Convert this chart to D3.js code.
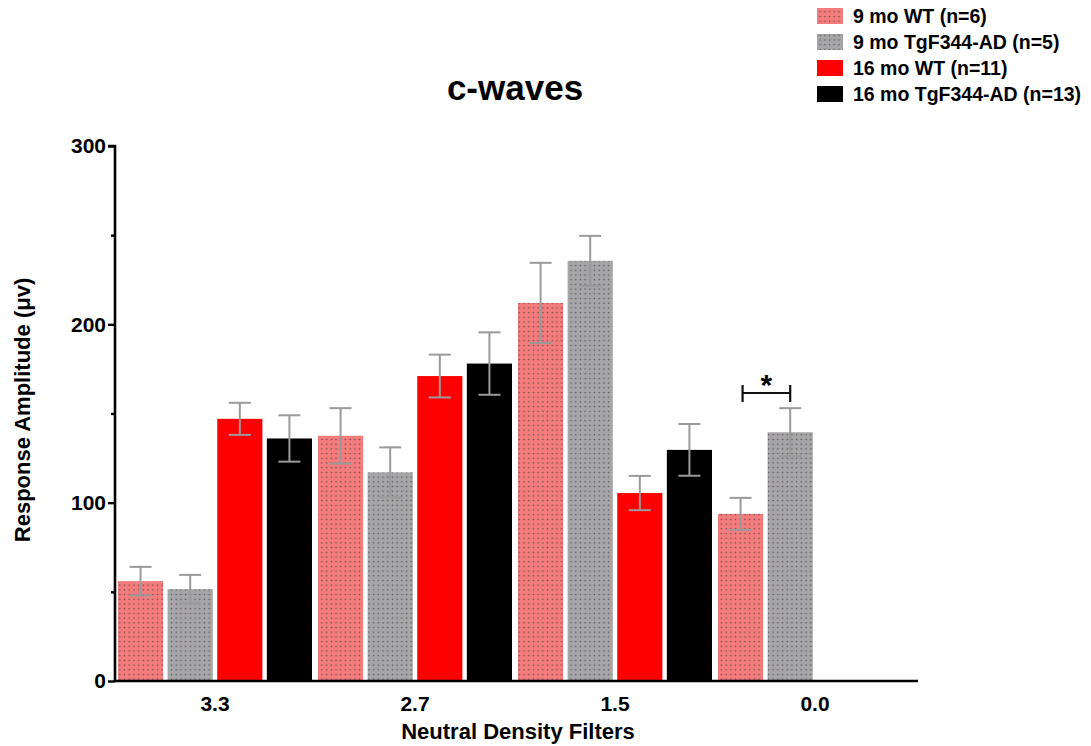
<!DOCTYPE html>
<html><head><meta charset="utf-8">
<script src="https://cdn.jsdelivr.net/npm/d3@7"></script>
<style>body{margin:0;background:#fff}svg{display:block;font-family:"Liberation Sans",Arial,Helvetica,sans-serif}</style>
</head><body><svg id="c" width="1091" height="746"></svg>
<script>
const categories = ["3.3","2.7","1.5","0.0"];
const seriesNames = ["9 mo WT (n=6)","9 mo TgF344-AD (n=5)","16 mo WT (n=11)","16 mo TgF344-AD (n=13)"];
// values per series, indexed by category
const seriesValues = [
  [56, 137.5, 212, 93.7],
  [51.5, 117, 235.6, 139.5],
  [147, 171, 105.4, null],
  [136, 178, 129.6, null]
];
const seriesErrors = [
  [8, 15.5, 22.5, 9],
  [8, 14, 14, 13.5],
  [9, 12, 9.6, null],
  [13, 17.5, 14.5, null]
];
const yTicks = [0, 100, 200, 300];
const yMinorTicks = [50, 150, 250];
const sig = {category: "0.0", from: 0, to: 1, value: 161.5, label: "*"};

const svg = d3.select("#c");
const colors = ["#f47c7c", "#a6a6a8", "#ff0000", "#000000"];
const patterned = [true, true, false, false];

const defs = svg.append("defs");
colors.forEach((c, i) => {
  if (!patterned[i]) return;
  const p = defs.append("pattern").attr("id", "pat" + i).attr("patternUnits", "userSpaceOnUse")
    .attr("width", 4.7).attr("height", 4.7);
  p.append("rect").attr("width", 4.7).attr("height", 4.7).attr("fill", c);
  p.append("circle").attr("cx", 2.35).attr("cy", 2.35).attr("r", 0.8).attr("fill", "#4a3c3c").attr("opacity", 0.8);
});
const fillOf = i => patterned[i] ? `url(#pat${i})` : colors[i];

const x0 = d3.scaleBand().domain(categories).range([115, 915]).padding(0);
const x1 = d3.scaleBand().domain(d3.range(4)).range([3, 197]).paddingInner(0.09).paddingOuter(0);
const y = d3.scaleLinear().domain([0, 300]).range([681, 146]);

// bars
const g = svg.append("g");
seriesValues.forEach((vals, si) => {
  vals.forEach((v, ci) => {
    if (v == null) return;
    const xp = x0(categories[ci]) + x1(si);
    g.append("rect").attr("x", xp).attr("y", y(v)).attr("width", x1.bandwidth())
      .attr("height", y(0) - y(v)).attr("fill", fillOf(si));
  });
});
// error bars
seriesValues.forEach((vals, si) => {
  vals.forEach((v, ci) => {
    if (v == null) return;
    const e = seriesErrors[si][ci];
    const cx = x0(categories[ci]) + x1(si) + x1.bandwidth() / 2;
    const eg = g.append("g").attr("stroke", "#9a9a9a").attr("stroke-width", 2);
    eg.append("line").attr("x1", cx).attr("x2", cx).attr("y1", y(v - e)).attr("y2", y(v + e));
    eg.append("line").attr("x1", cx - 11).attr("x2", cx + 11).attr("y1", y(v + e)).attr("y2", y(v + e));
    eg.append("line").attr("x1", cx - 11).attr("x2", cx + 11).attr("y1", y(v - e)).attr("y2", y(v - e));
  });
});

// y axis
const yAxis = d3.axisLeft(y).tickValues(yTicks).tickSize(7).tickPadding(2).tickFormat(d3.format("d"));
const ya = svg.append("g").attr("transform", "translate(115,0)").call(yAxis);
ya.select(".domain").attr("stroke-width", 2.6).attr("d", `M-7,${y(300)}H0V${y(0)}`);
ya.selectAll(".tick line").attr("stroke-width", 2.4);
ya.selectAll(".tick text").attr("font-size", 21).attr("font-weight", "bold").attr("fill", "#000");
const yMinor = d3.axisLeft(y).tickValues(yMinorTicks).tickSize(4).tickFormat("");
const ym = svg.append("g").attr("transform", "translate(115,0)").call(yMinor);
ym.select(".domain").remove();
ym.selectAll(".tick line").attr("stroke-width", 2.4);

// x axis
const xa = svg.append("g").attr("transform", `translate(0,${y(0)})`).call(d3.axisBottom(x0).tickSize(0).tickPadding(15));
xa.select(".domain").attr("stroke-width", 2.6).attr("d", `M113.7,0H918`);
xa.selectAll(".tick text").attr("font-size", 21).attr("font-weight", "bold").attr("fill", "#000");

// labels
svg.append("text").attr("x", 518).attr("y", 739).attr("text-anchor", "middle")
  .attr("font-size", 22).attr("font-weight", "bold").text("Neutral Density Filters");
svg.append("text").attr("transform", "translate(30,410) rotate(-90)").attr("text-anchor", "middle")
  .attr("font-size", 22).attr("font-weight", "bold").text("Response Amplitude (μv)");
svg.append("text").attr("x", 515).attr("y", 100).attr("text-anchor", "middle")
  .attr("font-size", 35).attr("font-weight", "bold").text("c-waves");

// significance bracket
const sx1 = x0(sig.category) + x1(sig.from) + x1.bandwidth() / 2 + 2;
const sx2 = x0(sig.category) + x1(sig.to) + x1.bandwidth() / 2;
const sy = y(sig.value);
const sg = svg.append("g").attr("stroke", "#111").attr("stroke-width", 2.2);
sg.append("line").attr("x1", sx1).attr("x2", sx2).attr("y1", sy).attr("y2", sy);
sg.append("line").attr("x1", sx1).attr("x2", sx1).attr("y1", sy - 8).attr("y2", sy + 9);
sg.append("line").attr("x1", sx2).attr("x2", sx2).attr("y1", sy - 8).attr("y2", sy + 9);
svg.append("text").attr("x", (sx1 + sx2) / 2).attr("y", sy + 2).attr("text-anchor", "middle")
  .attr("font-size", 30).attr("font-weight", "bold").text(sig.label);

// legend
const lg = svg.append("g");
seriesNames.forEach((n, i) => {
  const yy = 16 + i * 26;
  lg.append("rect").attr("x", 817).attr("y", yy - 8).attr("width", 26).attr("height", 16).attr("fill", fillOf(i));
  lg.append("text").attr("x", 853).attr("y", yy + 7).attr("font-size", 19.5).attr("font-weight", "bold").text(n);
});
</script></body></html>
